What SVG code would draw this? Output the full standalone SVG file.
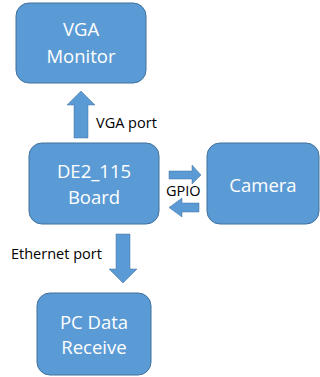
<svg xmlns="http://www.w3.org/2000/svg" width="320" height="377" viewBox="0 0 320 377">
<style>
.box{fill:#5B9BD5;stroke:#41719C;stroke-width:1}
.arr{fill:#5B9BD5;stroke:#41719C;stroke-width:0.5}
.t{font-family:"Open Sans","Noto Sans",sans-serif;font-size:18.5px;fill:#fff;text-anchor:middle}
.l{font-family:"Open Sans","Noto Sans",sans-serif;font-size:14.5px;fill:#000}
</style>
<rect width="320" height="377" fill="#fff"/>
<g id="vga">
<rect class="box" x="16" y="3" width="130" height="80" rx="13"/>
<text class="t" x="81" y="36">VGA</text>
<text class="t" x="81" y="63">Monitor</text>
</g>
<g id="de2">
<rect class="box" x="29" y="143" width="130" height="81" rx="13"/>
<text class="t" x="94" y="178">DE2_115</text>
<text class="t" x="94" y="204">Board</text>
</g>
<g id="camera">
<rect class="box" x="207" y="143" width="112" height="81" rx="13"/>
<text class="t" x="263" y="192">Camera</text>
</g>
<g id="pc">
<rect class="box" x="37" y="293" width="114" height="82" rx="13"/>
<text class="t" x="94" y="329">PC Data</text>
<text class="t" x="94" y="354">Receive</text>
</g>
<g id="connectors">
<polygon class="arr" points="81,91 95,105 88,105 88,138 74,138 74,105 67,105"/>
<text class="l" x="96" y="128">VGA port</text>
<polygon class="arr" points="169,171 192,171 192,165 201,175 192,184 192,179 169,179"/>
<polygon class="arr" points="169,207.5 182,198 182,203 199,203 199,212 182,212 182,217"/>
<text class="l" x="166" y="196">GPIO</text>
<polygon class="arr" points="116,234 130,234 130,269 137,269 123,283 109,269 116,269"/>
<text class="l" x="11" y="259">Ethernet port</text>
</g>
</svg>
